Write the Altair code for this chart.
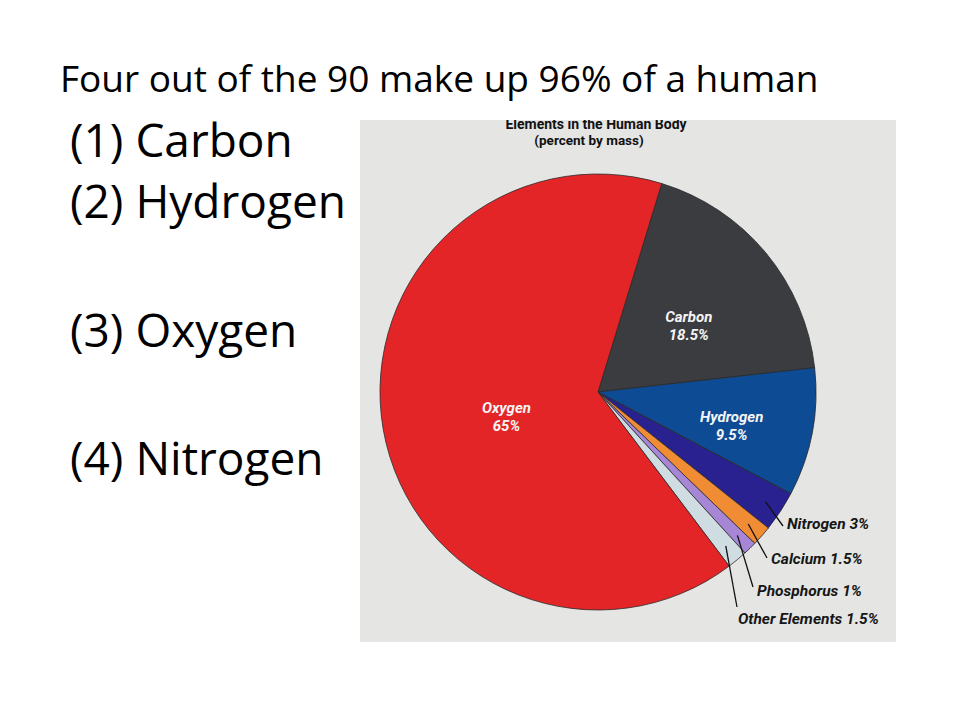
import math
import altair as alt
import pandas as pd

# ---------------- data ----------------
elements = ["Carbon", "Hydrogen", "Nitrogen", "Calcium", "Phosphorus", "Other Elements", "Oxygen"]
percents = [18.5, 9.5, 3, 1.5, 1, 1.5, 65]
slice_colors = ["#3b3c3f", "#0e4b95", "#2a2190", "#ef8c34", "#a886d6", "#cfdce2", "#e42528"]

inside_elements = ["Carbon", "Hydrogen", "Oxygen"]
outside_elements = ["Nitrogen", "Calcium", "Phosphorus", "Other Elements"]

pie_title = ["Elements in the Human Body", "(percent by mass)"]
slide_title = "Four out of the 90 make up 96% of a human"
list_items = ["(1) Carbon", "(2) Hydrogen", "(3) Oxygen", "(4) Nitrogen"]

# ---------------- layout (chart coords = page coords - 8) ----------------
CX, CY, R = 590, 384, 218
OFF = math.radians(17)
inside_radius = {"Carbon": 118, "Hydrogen": 136, "Oxygen": 93}
leader_r = 200
leader_end_x = [775, 759, 745, 729]
leader_end_y = [518, 550, 579, 599]
label_x = [779, 763, 749, 730]
label_y = [516, 551, 583, 611]
list_baselines = [149, 210, 339, 467]

df = pd.DataFrame({
    "element": elements,
    "pct": percents,
    "idx": list(range(len(elements))),
})
df["inlabel"] = [f"{e}\n{p:g}%" for e, p in zip(elements, percents)]
df["outlabel"] = [f"{e} {p:g}%" for e, p in zip(elements, percents)]

layout_df = pd.DataFrame({
    "element": outside_elements,
    "ex": leader_end_x, "ey": leader_end_y,
    "tx": label_x, "ty": label_y,
})

theta_scale = alt.Scale(domain=[0, 100], range=[OFF, OFF + 2 * math.pi])
color_scale = alt.Scale(domain=elements, range=slice_colors)

base = alt.Chart(df).transform_window(
    cum="sum(pct)", sort=[alt.SortField("idx")], frame=[None, 0]
).transform_calculate(
    mid="datum.cum - datum.pct / 2"
)

# background panel of the picture
panel = alt.Chart(pd.DataFrame({"a": [0]})).mark_rect(color="#e5e6e4").encode(
    x=alt.value(352), x2=alt.value(888), y=alt.value(112), y2=alt.value(634)
)

ptitle = alt.Chart(pd.DataFrame({"t": [pie_title[0]]})).mark_text(
    font="Roboto", fontWeight="bold", fontSize=14, color="#111111", align="center", baseline="alphabetic"
).encode(text="t:N", x=alt.value(588), y=alt.value(121))

cover = alt.Chart(pd.DataFrame({"a": [0]})).mark_rect(color="white").encode(
    x=alt.value(350), x2=alt.value(890), y=alt.value(94), y2=alt.value(112)
)

psub = alt.Chart(pd.DataFrame({"t": [pie_title[1]]})).mark_text(
    font="Roboto", fontWeight="bold", fontSize=13.5, color="#111111", align="center", baseline="alphabetic"
).encode(text="t:N", x=alt.value(581), y=alt.value(137))

arcs = alt.Chart(df).mark_arc(radius=R, stroke="#2a2a2a", strokeWidth=0.8).encode(
    theta=alt.Theta("pct:Q", stack=True, scale=theta_scale),
    order=alt.Order("idx:Q"),
    color=alt.Color("element:N", scale=color_scale, legend=None),
    x=alt.value(CX), y=alt.value(CY),
)

inside_layers = []
for name in inside_elements:
    inside_layers.append(
        base.transform_filter(alt.datum.element == name).mark_text(
            radius=inside_radius[name], font="Roboto", fontWeight="bold", fontStyle="italic",
            fontSize=15, color="#f4f4f4", align="center", baseline="middle", lineBreak="\n",
            lineHeight=18,
        ).encode(
            theta=alt.Theta("mid:Q", stack=None, scale=theta_scale),
            text="inlabel:N",
            x=alt.value(CX), y=alt.value(CY),
        )
    )

ann = base.transform_lookup(
    lookup="element", from_=alt.LookupData(layout_df, "element", ["ex", "ey", "tx", "ty"])
).transform_filter("isValid(datum.ex)").transform_calculate(
    ang=f"{OFF} + 2 * PI * datum.mid / 100"
).transform_calculate(
    sx=f"{CX} + {leader_r} * sin(datum.ang)",
    sy=f"{CY} - {leader_r} * cos(datum.ang)",
)

leaders = ann.mark_rule(color="#111111", strokeWidth=1.3).encode(
    x=alt.X("sx:Q", scale=None, axis=None),
    y=alt.Y("sy:Q", scale=None, axis=None),
    x2="ex:Q", y2="ey:Q",
)

out_labels = ann.mark_text(
    font="Roboto", fontWeight="bold", fontStyle="italic", fontSize=15.5, color="#161616",
    align="left", baseline="middle",
).encode(
    x=alt.X("tx:Q", scale=None, axis=None),
    y=alt.Y("ty:Q", scale=None, axis=None),
    text="outlabel:N",
)

title = alt.Chart(pd.DataFrame({"t": [slide_title]})).mark_text(
    font="Open Sans", fontSize=37, color="black", align="left", baseline="alphabetic"
).encode(text="t:N", x=alt.value(52), y=alt.value(84))

items = alt.Chart(pd.DataFrame({"t": list_items, "yb": list_baselines})).mark_text(
    font="Open Sans", fontSize=46, color="black", align="left", baseline="alphabetic"
).encode(
    text="t:N", x=alt.value(62),
    y=alt.Y("yb:Q", scale=None, axis=None),
)

chart = alt.layer(
    panel, ptitle, cover, psub, arcs, *inside_layers, leaders, out_labels, title, items
).properties(
    width=944, height=704, padding=0, autosize="none", background="white"
).configure_view(stroke=None)

chart.save("out.html", embed_options={"renderer": "svg", "actions": False})
